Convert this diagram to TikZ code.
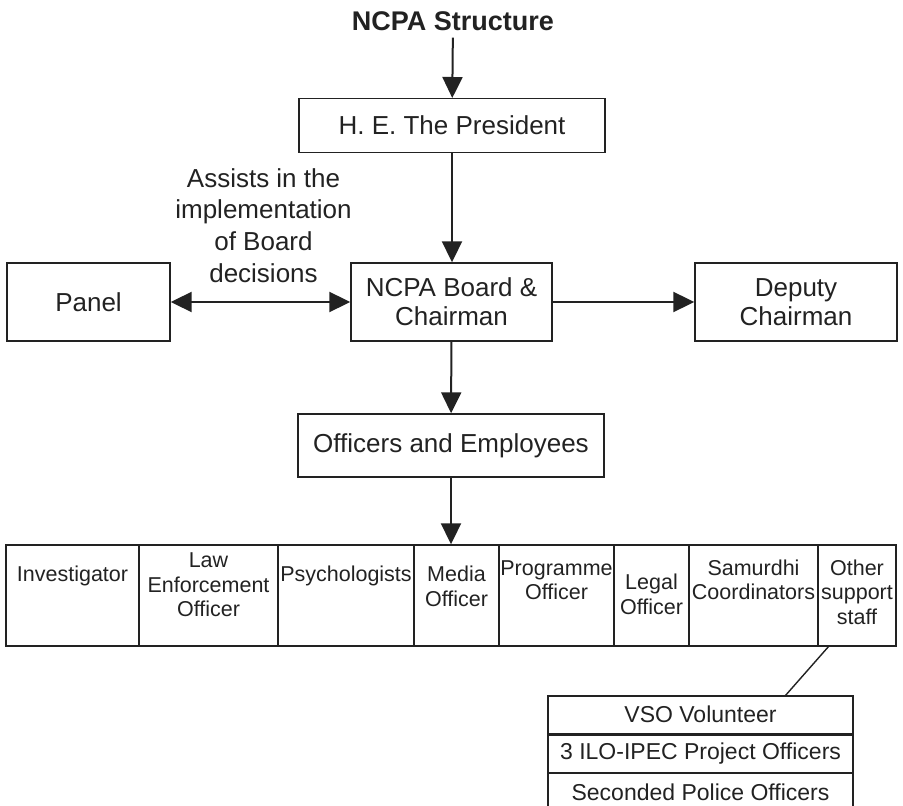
\documentclass[tikz,border=0pt]{standalone}
\usepackage{fontspec}
\setmainfont{Liberation Sans}
\usepackage{xcolor}
\usetikzlibrary{arrows.meta,positioning}

\definecolor{ink}{HTML}{222222}

\tikzset{
	box/.style={draw=ink, line width=0.7pt, inner sep=0pt, align=center, text=ink,
		font=\fontsize{13}{14.5}\selectfont},
	cell/.style={align=center, inner sep=0pt, text=ink, font=\fontsize{10.75}{12.25}\selectfont},
	vso/.style={draw=ink, line width=0.7pt, inner sep=0pt, minimum width=152.5pt,
		minimum height=18.75pt, text=ink, font=\fontsize{11.5}{13}\selectfont},
	link/.style={-{Triangle[length=10.5pt,width=10pt]}, line width=1pt, draw=ink},
	twolink/.style={{Triangle[length=10.5pt,width=10pt]}-{Triangle[length=10.5pt,width=10pt]}, line width=1pt, draw=ink}
}

\begin{document}
\begin{tikzpicture}[x=0.5pt,y=-0.5pt]
	\useasboundingbox (0,0) rectangle (903,806);
% title
	\node[text=ink, font=\bfseries\fontsize{13.5}{16}\selectfont] (title) at (453,21) {NCPA Structure};
% top boxes
	\node[box, minimum width=153pt, minimum height=26.8pt] (pres) at (452,125.5) {H. E. The President};
	\node[box, minimum width=100.5pt, minimum height=39pt] (board) at (451.5,302) {NCPA Board \&\\Chairman};
	\node[box, minimum width=81.5pt, minimum height=39pt] (panel) at (88.5,302) {Panel};
	\node[box, minimum width=101pt, minimum height=39pt] (deputy) at (796,302) {Deputy\\Chairman};
	\node[box, minimum width=153pt, minimum height=31.5pt] (off) at (451,445.5) {Officers and Employees};
% note on the panel link
	\node[align=center, text=ink, font=\fontsize{13}{15.85}\selectfont] (assist) at (263.5,225.5)
		{Assists in the\\implementation\\of Board\\decisions};
% arrows
	\draw[link] (title) -- (pres);
	\draw[link] (pres.south) -- (pres.south |- board.north);
	\draw[twolink] (panel) -- (board);
	\draw[link] (board) -- (deputy);
	\draw[link] (board) -- (off);
% row of staff
	\node[draw=ink, line width=0.7pt, inner sep=0pt, minimum width=445pt, minimum height=50.5pt] (row) at (451,595.5) {};
	\foreach \x in {139,278,414,499,614,689,818}
		\draw[ink, line width=0.7pt] (\x,0 |- row.north) -- (\x,0 |- row.south);
	\draw[link] (off.south) -- (off.south |- row.north);
% staff labels
	\node[cell] (inv) at (72.5,576) {Investigator};
	\node[cell] (law) at (208.5,585) {Law\\Enforcement\\Officer};
	\node[cell] (psy) at (346,576) {Psychologists};
	\node[cell] (media) at (456.5,586.5) {Media\\Officer};
	\node[cell] (prog) at (556.5,580) {Programme\\Officer};
	\node[cell] (legal) at (651.5,594.5) {Legal\\Officer};
	\node[cell] (sam) at (753.5,580) {Samurdhi\\Coordinators};
	\node[cell] (other) at (857,592) {Other\\support\\staff};
% support staff box
	\node[vso] (vso1) at (700.5,714.7) {VSO Volunteer};
	\node[vso, below=0pt of vso1] (vso2) {3 ILO-IPEC Project Officers};
	\node[vso, below=0pt of vso2] (vso3) {Seconded Police Officers};
	\coordinate (tail) at (829,646);
	\coordinate (head) at (785,696);
	\draw[ink, line width=0.7pt] (tail) -- (head);
\end{tikzpicture}
\end{document}
